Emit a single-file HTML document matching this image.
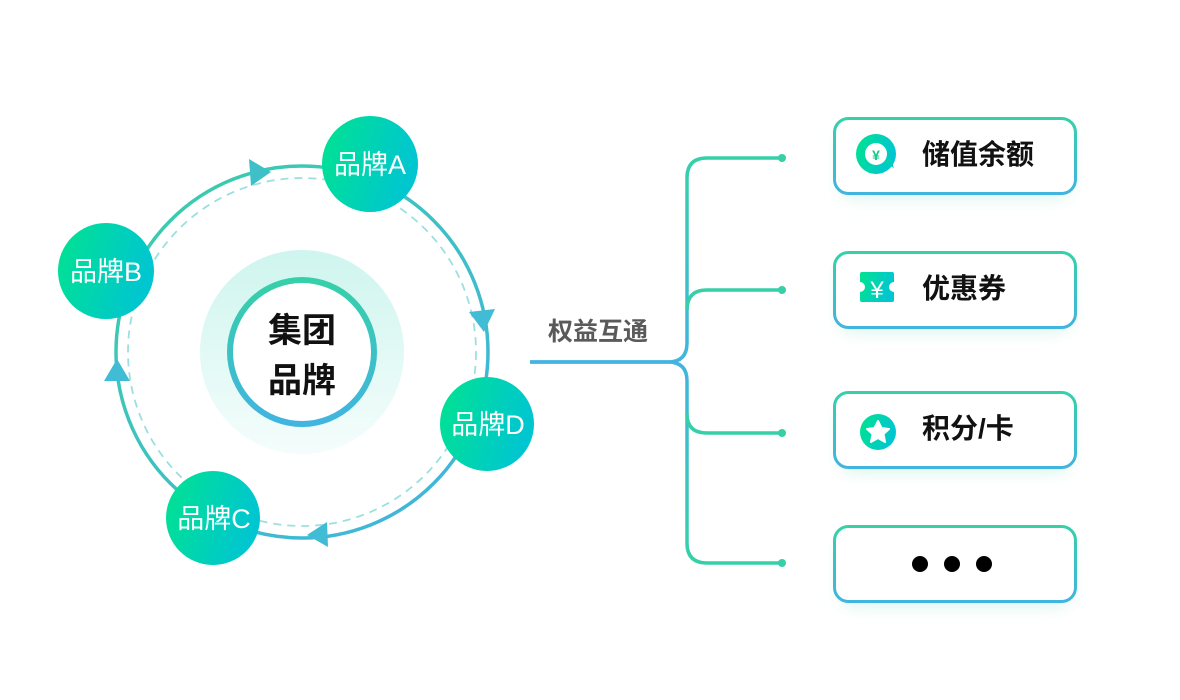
<!DOCTYPE html>
<html><head><meta charset="utf-8"><style>
html,body{margin:0;padding:0;background:#fff;width:1180px;height:700px;overflow:hidden}
text{font-family:"Liberation Sans","Noto Sans CJK SC",sans-serif}
</style></head><body>
<svg width="1180" height="700" viewBox="0 0 1180 700" xmlns="http://www.w3.org/2000/svg">
<defs>
<linearGradient id="gb" x1="0" y1="0" x2="1" y2="0.3"><stop offset="0" stop-color="#00e38f"/><stop offset="1" stop-color="#00c6d0"/></linearGradient>
<linearGradient id="gv" x1="0" y1="0" x2="0" y2="1"><stop offset="0" stop-color="#36d0a8"/><stop offset="1" stop-color="#41b4e0"/></linearGradient>
<linearGradient id="gc" gradientUnits="userSpaceOnUse" x1="0" y1="158" x2="0" y2="563"><stop offset="0" stop-color="#36d0a8"/><stop offset="0.5" stop-color="#41b4e0"/><stop offset="1" stop-color="#36d0a8"/></linearGradient>
<linearGradient id="gh" x1="0" y1="0" x2="0" y2="1"><stop offset="0" stop-color="#cff5ee"/><stop offset="1" stop-color="#f4fdfc"/></linearGradient>
<linearGradient id="gr" x1="0" y1="0" x2="1" y2="1"><stop offset="0" stop-color="#3acfa6"/><stop offset="1" stop-color="#41b2e2"/></linearGradient>
<filter id="sh" x="-20%" y="-40%" width="140%" height="180%"><feGaussianBlur stdDeviation="8"/></filter>
</defs>
<circle cx="302" cy="352" r="186" fill="none" stroke="url(#gr)" stroke-width="3.5"/>
<circle cx="302" cy="352" r="174" fill="none" stroke="#9ddfe0" stroke-width="1.8" stroke-dasharray="8 6"/>
<polygon points="249,159 271,172 251,186" fill="#3fc0c8"/>
<polygon points="469,312 495,309 484,332" fill="#40bcd4"/>
<polygon points="327,522 307,535 328,547" fill="#40bcd4"/>
<polygon points="104,381 117,359 130,381" fill="#40bcd4"/>
<circle cx="302" cy="352" r="102" fill="url(#gh)"/>
<circle cx="302" cy="352" r="72" fill="#fff" stroke="url(#gv)" stroke-width="6"/>
<text x="302" y="342" font-size="34" font-weight="bold" text-anchor="middle" fill="#111">集团</text>
<text x="302" y="392" font-size="34" font-weight="bold" text-anchor="middle" fill="#111">品牌</text>
<g font-size="27" fill="#fff" text-anchor="middle">
<circle cx="370" cy="164" r="48" fill="url(#gb)"/><text x="370" y="174">品牌A</text>
<circle cx="106" cy="271" r="48" fill="url(#gb)"/><text x="106" y="281">品牌B</text>
<circle cx="487" cy="424" r="47" fill="url(#gb)"/><text x="488" y="434">品牌D</text>
<circle cx="213" cy="518" r="47" fill="url(#gb)"/><text x="214" y="528">品牌C</text>
</g>
<text x="598" y="340" font-size="25" fill="#5a5a5a" text-anchor="middle" font-weight="bold">权益互通</text>
<path d="M530,362 H668 Q687,362 687,343 V178 Q687,158 707,158 H782" fill="none" stroke="url(#gc)" stroke-width="3.5"/>
<path d="M687,310 Q687,290 707,290 H782" fill="none" stroke="#37cfa8" stroke-width="3.5"/>
<path d="M668,362 Q687,362 687,381 V543 Q687,563 707,563 H782" fill="none" stroke="url(#gc)" stroke-width="3.5"/>
<path d="M687,414 Q687,433 707,433 H782" fill="none" stroke="#37cfa8" stroke-width="3.5"/>
<path d="M530,362 H668" stroke="#41b4e0" stroke-width="3.5"/>
<g fill="#37cfa8"><circle cx="782" cy="158" r="4"/><circle cx="782" cy="290" r="4"/><circle cx="782" cy="433" r="4"/><circle cx="782" cy="563" r="4"/></g>
<g>
<rect x="840" y="128" width="230" height="70" rx="14" fill="#bfeee2" opacity="0.6" filter="url(#sh)"/>
<rect x="840" y="262" width="230" height="70" rx="14" fill="#bfeee2" opacity="0.6" filter="url(#sh)"/>
<rect x="840" y="402" width="230" height="70" rx="14" fill="#bfeee2" opacity="0.6" filter="url(#sh)"/>
<rect x="840" y="536" width="230" height="70" rx="14" fill="#bfeee2" opacity="0.6" filter="url(#sh)"/>
<rect x="834.5" y="118.5" width="241" height="75" rx="14" fill="#fff" stroke="url(#gv)" stroke-width="3"/>
<rect x="834.5" y="252.5" width="241" height="75" rx="14" fill="#fff" stroke="url(#gv)" stroke-width="3"/>
<rect x="834.5" y="392.5" width="241" height="75" rx="14" fill="#fff" stroke="url(#gv)" stroke-width="3"/>
<rect x="834.5" y="526.5" width="241" height="75" rx="14" fill="#fff" stroke="url(#gv)" stroke-width="3"/>
</g>
<g font-size="28" fill="#111" font-weight="bold">
<text x="922" y="164">储值余额</text>
<text x="922" y="298">优惠券</text>
<text x="922" y="438">积分/卡</text>
</g>
<circle cx="876" cy="154" r="20" fill="url(#gb)"/>
<circle cx="876" cy="154" r="11" fill="#fff"/>
<path d="M884,162 L894,168 L890,158 Z" fill="url(#gb)"/>
<text x="876" y="160" font-size="14" font-weight="bold" fill="#10c889" text-anchor="middle">¥</text>
<path d="M862,272 H892 a2,2 0 0 1 2,2 V282 a5,5 0 0 0 0,10 V300 a2,2 0 0 1 -2,2 H862 a2,2 0 0 1 -2,-2 V292 a5,5 0 0 0 0,-10 V274 a2,2 0 0 1 2,-2 Z" fill="url(#gb)"/>
<text x="877" y="298" font-size="24" fill="#fff" text-anchor="middle">¥</text>
<circle cx="878" cy="432" r="18" fill="url(#gb)"/>
<polygon points="878,421 881.5,428 889,429 883.5,434 885,442 878,438 871,442 872.5,434 867,429 874.5,428" fill="#fff" stroke="#fff" stroke-width="2" stroke-linejoin="round"/>
<g fill="#000"><circle cx="920" cy="564" r="8"/><circle cx="952" cy="564" r="8"/><circle cx="984" cy="564" r="8"/></g>
</svg>
</body></html>
